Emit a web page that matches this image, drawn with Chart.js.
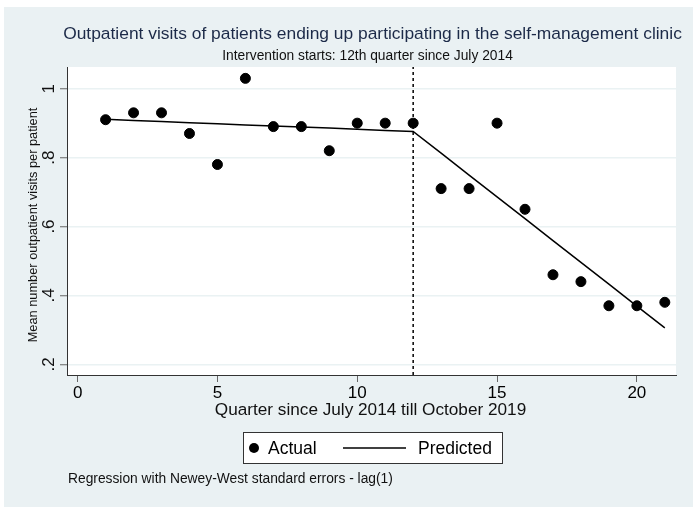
<!DOCTYPE html>
<html>
<head>
<meta charset="utf-8">
<script src="https://cdn.jsdelivr.net/npm/chart.js@4.4.1/dist/chart.umd.min.js"></script>
<style>
  html, body { margin: 0; padding: 0; background: #ffffff; }
  #wrap { width: 700px; height: 513px; position: relative; }
</style>
</head>
<body>
<div id="wrap"><canvas id="c" width="700" height="513"></canvas></div>
<script>
// ---- Data ----
const quarters = [1, 2, 3, 4, 5, 6, 7, 8, 9, 10, 11, 12, 13, 14, 15, 16, 17, 18, 19, 20, 21];
const actualVisits = [0.91, 0.93, 0.93, 0.87, 0.78, 1.03, 0.89, 0.89, 0.82, 0.90, 0.90, 0.90,
                      0.71, 0.71, 0.90, 0.65, 0.46, 0.44, 0.37, 0.37, 0.38];
const predictedVisits = [0.911, 0.908, 0.905, 0.901, 0.898, 0.895, 0.892, 0.889, 0.886, 0.882, 0.879, 0.876,
                         0.813, 0.749, 0.686, 0.623, 0.559, 0.496, 0.433, 0.369, 0.306];
const interventionQuarter = 12;
const xTicks = [0, 5, 10, 15, 20];
const yTicks = [0.2, 0.4, 0.6, 0.8, 1.0];
const yTickLabels = ['.2', '.4', '.6', '.8', '1'];
const xRange = [-0.38, 21.4];
const yRange = [0.169, 1.063];

const titleText = 'Outpatient visits of patients ending up participating in the self-management clinic';
const subtitleText = 'Intervention starts: 12th quarter since July 2014';
const xTitleText = 'Quarter since July 2014 till October 2019';
const yTitleText = 'Mean number outpatient visits per patient';
const noteText = 'Regression with Newey-West standard errors - lag(1)';
const legendLabels = ['Actual', 'Predicted'];

const FONT = '"Liberation Sans", Arial, sans-serif';
const BG = '#eaf1f3';

const actualData = quarters.map((q, i) => ({ x: q, y: actualVisits[i] }));
const predictedData = quarters.map((q, i) => ({ x: q, y: predictedVisits[i] }));
const interventionData = [{ x: interventionQuarter, y: yRange[0] }, { x: interventionQuarter, y: yRange[1] }];

const decorPlugin = {
  id: 'decor',
  beforeDraw(chart) {
    const ctx = chart.ctx;
    const a = chart.chartArea;
    ctx.save();
    ctx.fillStyle = '#ffffff';
    ctx.fillRect(0, 0, chart.width, chart.height);
    ctx.fillStyle = BG;
    ctx.fillRect(4, 7, 689, 500);
    ctx.fillStyle = '#ffffff';
    ctx.fillRect(a.left, a.top, a.right - a.left, a.bottom - a.top);
    ctx.restore();
  },
  afterDraw(chart) {
    const ctx = chart.ctx;
    const a = chart.chartArea;
    const ys = chart.scales.y;
    const cx = (a.left + a.right) / 2;
    ctx.save();
    ctx.textAlign = 'center';
    ctx.textBaseline = 'middle';
    // Title
    ctx.fillStyle = '#1c2a48';
    ctx.font = '17.4px ' + FONT;
    ctx.fillText(titleText, cx + 1, 34);
    // Subtitle
    ctx.fillStyle = '#111111';
    ctx.font = '13.8px ' + FONT;
    ctx.fillText(subtitleText, cx - 4, 56);
    // X title
    ctx.font = '17.2px ' + FONT;
    ctx.fillText(xTitleText, cx - 1, 410);
    // Y tick labels (rotated)
    ctx.font = '17px ' + FONT;
    yTicks.forEach((v, i) => {
      const py = ys.getPixelForValue(v);
      ctx.save();
      ctx.translate(49, py);
      ctx.rotate(-Math.PI / 2);
      ctx.fillText(yTickLabels[i], 0, 0);
      ctx.restore();
    });
    // Y title
    ctx.save();
    ctx.font = '12.8px ' + FONT;
    ctx.translate(33, 225);
    ctx.rotate(-Math.PI / 2);
    ctx.fillText(yTitleText, 0, 0);
    ctx.restore();
    // Legend
    const lx = 243.5, ly = 432.5, lw = 259, lh = 31;
    ctx.fillStyle = '#ffffff';
    ctx.fillRect(lx, ly, lw, lh);
    ctx.strokeStyle = '#333333';
    ctx.lineWidth = 1;
    ctx.strokeRect(lx, ly, lw, lh);
    const my = ly + lh / 2;
    ctx.fillStyle = '#000000';
    ctx.beginPath();
    ctx.arc(254, my, 5, 0, Math.PI * 2);
    ctx.fill();
    ctx.font = '17.5px ' + FONT;
    ctx.textAlign = 'left';
    ctx.fillText(legendLabels[0], 268, my + 1);
    ctx.beginPath();
    ctx.moveTo(343, my);
    ctx.lineTo(406, my);
    ctx.lineWidth = 1.5;
    ctx.strokeStyle = '#000000';
    ctx.stroke();
    ctx.fillText(legendLabels[1], 418, my + 1);
    // Note
    ctx.font = '13.8px ' + FONT;
    ctx.fillStyle = '#111111';
    ctx.fillText(noteText, 68, 479);
    ctx.restore();
  }
};

new Chart(document.getElementById('c'), {
  type: 'scatter',
  data: {
    datasets: [
      {
        label: legendLabels[0],
        data: actualData,
        backgroundColor: '#000000',
        borderColor: '#000000',
        pointRadius: 5,
        pointHoverRadius: 5,
        showLine: false,
        order: 0
      },
      {
        label: legendLabels[1],
        data: predictedData,
        borderColor: '#000000',
        borderWidth: 1.5,
        pointRadius: 0,
        showLine: true,
        fill: false,
        order: 1
      },
      {
        label: 'Intervention',
        data: interventionData,
        borderColor: '#000000',
        borderWidth: 1.5,
        borderDash: [3, 3],
        pointRadius: 0,
        showLine: true,
        fill: false,
        order: 2
      }
    ]
  },
  options: {
    responsive: false,
    animation: false,
    devicePixelRatio: 1,
    layout: { padding: { left: 4, top: 67, right: 24, bottom: 0 } },
    plugins: {
      legend: { display: false },
      title: { display: false },
      tooltip: { enabled: false }
    },
    scales: {
      x: {
        type: 'linear',
        min: xRange[0],
        max: xRange[1],
        afterBuildTicks(scale) { scale.ticks = xTicks.map(v => ({ value: v })); },
        afterFit(scale) { scale.height = 138; },
        ticks: {
          color: '#000000',
          font: { family: FONT, size: 17 },
          padding: 1,
          maxRotation: 0,
          minRotation: 0
        },
        grid: {
          drawOnChartArea: false,
          tickLength: 7,
          tickColor: '#666666',
          tickWidth: 1
        },
        border: { display: true, color: '#333333', width: 1 }
      },
      y: {
        type: 'linear',
        min: yRange[0],
        max: yRange[1],
        afterBuildTicks(scale) { scale.ticks = yTicks.map(v => ({ value: v })); },
        afterFit(scale) { scale.width = 63; },
        ticks: { display: false },
        grid: {
          color: '#eaf2f3',
          lineWidth: 1.5,
          tickLength: 7,
          tickColor: '#666666',
          tickWidth: 1
        },
        border: { display: true, color: '#333333', width: 1 }
      }
    }
  },
  plugins: [decorPlugin]
});
</script>
</body>
</html>
